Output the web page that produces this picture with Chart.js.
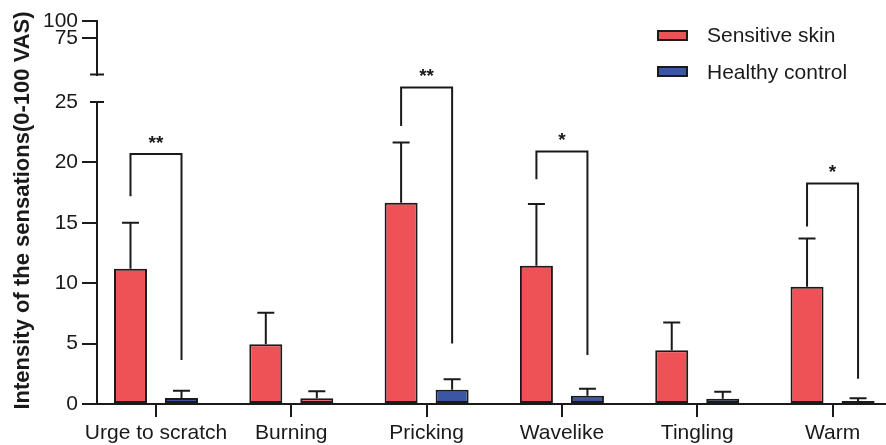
<!DOCTYPE html>
<html>
<head>
<meta charset="utf-8">
<script src="https://cdn.jsdelivr.net/npm/chart.js@4.4.0/dist/chart.umd.min.js"></script>
<style>
  html, body { margin: 0; padding: 0; background: #fff; overflow: hidden; }
  #wrap { position: relative; width: 886px; height: 445px; }
  #legend { position: absolute; left: 657px; top: 17px; font: 21px 'Liberation Sans', Arial, sans-serif; color: #1a1a1a; }
  .item { display: flex; align-items: center; height: 36.5px; white-space: nowrap; }
  .swatch { width: 27px; height: 7px; border: 2px solid #1a1a1a; margin-right: 19px; }
</style>
</head>
<body>
<div id="wrap">
  <canvas id="chart" width="886" height="445"></canvas>
  <div id="legend"></div>
</div>
<script>
// Values (mean and SD, 0-100 VAS)
const categories = ['Urge to scratch', 'Burning', 'Pricking', 'Wavelike', 'Tingling', 'Warm'];
const sensitiveMean = [11.2, 4.95, 16.65, 11.45, 4.45, 9.7];
const sensitiveSD = [3.8, 2.6, 5.0, 5.1, 2.3, 4.0];
const controlMean = [0.5, 0.47, 1.18, 0.69, 0.44, 0.25];
const controlSD = [0.6, 0.58, 0.86, 0.58, 0.58, 0.22];
const lowerTicks = [0, 5, 10, 15, 20, 25];
const upperTicks = [75, 100];

// significance brackets: category, bracket top, left leg end, right leg end, mark
const sigIndex = [0, 2, 3, 5];
const sigTop = [20.7, 26.2, 20.9, 18.25];
const sigLeftEnd = [17.2, 23.0, 18.6, 14.7];
const sigRightEnd = [3.65, 5.0, 4.05, 2.1];
const sigMarks = ['**', '**', '*', '*'];

const RED = '#EF5256';
const BLUE = '#3A56A5';
const INK = '#1a1a1a';
const FONT = "'Liberation Sans', Arial, sans-serif";

Chart.defaults.font.family = FONT;
Chart.defaults.color = INK;

// the control bar for Burning is red in the original figure
const controlColors = controlMean.map((v, i) => i === 1 ? RED : BLUE);

const extras = {
    id: 'extras',
    afterDatasetsDraw(chart) {
        const { ctx, scales } = chart;
        const y = scales.y;
        const m0 = chart.getDatasetMeta(0);
        const m1 = chart.getDatasetMeta(1);
        ctx.save();
        ctx.strokeStyle = INK;
        ctx.lineWidth = 2;

        // error bars (upper half only)
        [[m0, sensitiveMean, sensitiveSD], [m1, controlMean, controlSD]].forEach(([meta, mean, sd]) => {
            meta.data.forEach((bar, i) => {
                const top = y.getPixelForValue(mean[i] + sd[i]);
                ctx.beginPath();
                ctx.moveTo(bar.x, bar.y);
                ctx.lineTo(bar.x, top);
                ctx.moveTo(bar.x - 8.5, top);
                ctx.lineTo(bar.x + 8.5, top);
                ctx.stroke();
            });
        });

        // significance brackets
        ctx.fillStyle = INK;
        ctx.font = 'bold 19px ' + FONT;
        ctx.textAlign = 'center';
        ctx.textBaseline = 'alphabetic';
        sigIndex.forEach((idx, k) => {
            const xl = m0.data[idx].x;
            const xr = m1.data[idx].x;
            const yt = y.getPixelForValue(sigTop[k]);
            ctx.beginPath();
            ctx.moveTo(xl, y.getPixelForValue(sigLeftEnd[k]));
            ctx.lineTo(xl, yt);
            ctx.lineTo(xr, yt);
            ctx.lineTo(xr, y.getPixelForValue(sigRightEnd[k]));
            ctx.stroke();
            ctx.fillText(sigMarks[k], (xl + xr) / 2, yt - 5);
        });
        ctx.restore();
    },
    afterDraw(chart) {
        const { ctx, scales, chartArea } = chart;
        const ax = chartArea.left;
        ctx.save();
        ctx.strokeStyle = INK;
        ctx.lineWidth = 2;
        // caps at the axis break
        ctx.beginPath();
        ctx.moveTo(ax - 7, scales.y.top);
        ctx.lineTo(ax + 7, scales.y.top);
        ctx.moveTo(ax - 7, scales.yTop.bottom);
        ctx.lineTo(ax + 7, scales.yTop.bottom);
        ctx.stroke();

        // y axis title
        ctx.translate(23, 210.5);
        ctx.rotate(-Math.PI / 2);
        ctx.fillStyle = INK;
        ctx.font = 'bold 22px ' + FONT;
        ctx.textAlign = 'center';
        ctx.textBaseline = 'middle';
        ctx.fillText('Intensity of the sensations(0-100 VAS)', 0, 0);
        ctx.restore();
    }
};

const yTickOpts = {
    font: { size: 21 },
    color: INK,
    padding: 4,
    autoSkip: false
};

const chart = new Chart(document.getElementById('chart'), {
    type: 'bar',
    data: {
        datasets: [
            {
                label: 'Sensitive skin',
                data: sensitiveMean.map((v, i) => ({ x: i, y: v })),
                yAxisID: 'y',
                backgroundColor: RED,
                borderColor: INK,
                borderWidth: 2,
                borderSkipped: false
            },
            {
                label: 'Healthy control',
                data: controlMean.map((v, i) => ({ x: i, y: v })),
                yAxisID: 'y',
                backgroundColor: controlColors,
                borderColor: INK,
                borderWidth: 2,
                borderSkipped: false
            }
        ]
    },
    options: {
        responsive: false,
        animation: false,
        layout: { padding: { top: 21, left: 0, right: 0, bottom: 0 } },
        categoryPercentage: 0.754,
        barPercentage: 0.647,
        plugins: {
            legend: { display: false },
            tooltip: { enabled: false }
        },
        scales: {
            x: {
                type: 'linear',
                offset: false,
                min: -0.436,
                max: 5.395,
                afterBuildTicks: (scale) => {
                    scale.ticks = categories.map((c, i) => ({ value: i }));
                },
                afterFit: (scale) => { scale.height = 41; },
                grid: { offset: false, drawOnChartArea: false, tickLength: 13, color: INK, lineWidth: 2 },
                border: { color: INK, width: 2 },
                ticks: {
                    font: { size: 21 },
                    color: INK,
                    padding: 4,
                    maxRotation: 0,
                    autoSkip: false,
                    callback: (value) => categories[value]
                }
            },
            y: {
                type: 'linear',
                position: 'left',
                stack: 'v',
                stackWeight: 302.3,
                min: 0,
                max: 25,
                afterBuildTicks: (scale) => {
                    scale.ticks = lowerTicks.map(v => ({ value: v }));
                },
                afterFit: (scale) => { scale.width = 97; },
                grid: {
                    drawOnChartArea: false,
                    tickLength: 15,
                    lineWidth: 2,
                    tickColor: (c) => c.tick && c.tick.value === 25 ? 'rgba(0,0,0,0)' : INK
                },
                border: { color: INK, width: 2 },
                ticks: yTickOpts
            },
            yGap: {
                type: 'linear',
                position: 'left',
                stack: 'v',
                stackWeight: 27.4,
                min: 0,
                max: 1,
                afterFit: (scale) => { scale.width = 97; },
                grid: { display: false },
                border: { display: false },
                ticks: { display: false }
            },
            yTop: {
                type: 'linear',
                position: 'left',
                stack: 'v',
                stackWeight: 53.6,
                min: 21,
                max: 100,
                afterBuildTicks: (scale) => {
                    scale.ticks = upperTicks.map(v => ({ value: v }));
                },
                afterFit: (scale) => { scale.width = 97; },
                grid: { drawOnChartArea: false, tickLength: 15, color: INK, lineWidth: 2 },
                border: { color: INK, width: 2 },
                ticks: yTickOpts
            }
        }
    },
    plugins: [extras]
});

// legend built from the datasets
const legend = document.getElementById('legend');
chart.data.datasets.forEach((ds, i) => {
    const item = document.createElement('div');
    item.className = 'item';
    const sw = document.createElement('span');
    sw.className = 'swatch';
    sw.style.background = i === 0 ? RED : BLUE;
    const label = document.createElement('span');
    label.textContent = ds.label;
    item.appendChild(sw);
    item.appendChild(label);
    legend.appendChild(item);
});
</script>
</body>
</html>
